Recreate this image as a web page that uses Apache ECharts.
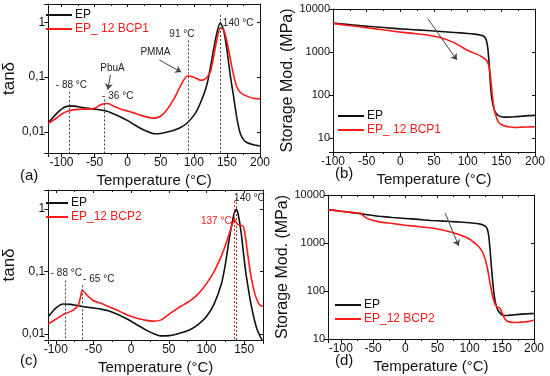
<!DOCTYPE html>
<html><head><meta charset="utf-8">
<script src="https://cdn.jsdelivr.net/npm/echarts@6/dist/echarts.min.js"></script>
<style>html,body{margin:0;padding:0;background:#fff}#c{width:550px;height:376px}</style>
</head><body><div id="c"></div>
<script>
// ---------- DATA ----------
// (a) tan delta, EP vs EP_ 12 BCP1
const tA = [-120,-110,-100,-90,-80,-70,-60,-50,-40,-30,-20,-10,0,10,20,30,40,50,60,70,80,90,100,105,110,115,120,125,130,135,140,145,150,155,160,165,170,175,180,190,200];
const epA = [0.0145,0.02,0.026,0.0295,0.0295,0.028,0.027,0.026,0.025,0.0235,0.021,0.0185,0.016,0.0135,0.0115,0.0101,0.0092,0.0093,0.0099,0.0107,0.012,0.0145,0.02,0.025,0.034,0.048,0.075,0.15,0.33,0.66,1.0,0.72,0.32,0.11,0.045,0.018,0.0095,0.0072,0.0064,0.0058,0.0055];
const bcp1A = [0.0143,0.017,0.021,0.024,0.0255,0.026,0.026,0.027,0.0315,0.033,0.029,0.026,0.024,0.022,0.02,0.0186,0.0178,0.0195,0.026,0.04,0.07,0.105,0.1,0.093,0.088,0.09,0.1,0.125,0.24,0.5,0.8,0.74,0.45,0.22,0.11,0.066,0.053,0.048,0.045,0.041,0.04];
// (b) storage modulus, EP vs EP_ 12 BCP1
const tB = [-100,-80,-60,-40,-20,0,20,40,60,80,100,110,120,123,126,128,130,132,134,136,138,140,143,146,150,155,160,170,180,190,200];
const epB = [4700,4400,4100,3850,3650,3450,3300,3150,3000,2850,2700,2600,2450,2350,2150,1800,1200,500,160,80,55,43,36,33,31,30.5,30.5,31,32,33,33.5];
const bcp1B = [4600,4200,3850,3500,3200,2900,2700,2480,2150,1650,1080,940,790,740,680,630,560,430,260,120,65,42,29,23,20.5,19,18.3,17.5,17.8,18,18.2];
// (c) tan delta, EP vs EP_12 BCP2
const tC = [-110,-100,-90,-80,-75,-70,-67,-65,-62,-58,-50,-40,-30,-20,-10,0,10,20,30,40,50,60,70,80,90,100,110,120,125,130,134,137,140,143,146,149,152,155,158,161,164,167,170,173,175];
const epC = [0.019,0.026,0.0302,0.0298,0.029,0.0283,0.0279,0.0276,0.0272,0.0268,0.026,0.025,0.0235,0.021,0.0185,0.016,0.0135,0.0115,0.0101,0.0093,0.0094,0.0099,0.0107,0.012,0.0145,0.019,0.03,0.065,0.13,0.32,0.6,0.87,1.0,0.72,0.42,0.2,0.1,0.058,0.035,0.023,0.016,0.012,0.0098,0.0083,0.0075];
const bcp2C = [0.0145,0.0172,0.0205,0.023,0.025,0.029,0.04,0.05,0.047,0.041,0.034,0.031,0.0275,0.0245,0.0215,0.0192,0.0175,0.0165,0.016,0.0168,0.0205,0.025,0.0295,0.035,0.045,0.064,0.1,0.18,0.26,0.4,0.56,0.68,0.6,0.55,0.55,0.52,0.34,0.18,0.1,0.064,0.045,0.035,0.03,0.028,0.028];
// (d) storage modulus, EP vs EP_12 BCP2
const tD = [-120,-100,-80,-70,-65,-60,-50,-40,-20,0,20,40,60,80,100,110,115,120,125,128,130,132,134,136,138,140,143,146,148,150,153,156,160,170,180,190,200];
const epD = [5000,4600,4250,4100,4000,3900,3750,3600,3400,3250,3100,2950,2850,2750,2650,2550,2500,2400,2200,1850,1300,650,300,150,85,58,43,36,34,32,31,30.8,31,32,33,33.5,34];
const bcp2D = [4900,4600,4300,4150,3700,3300,2950,2750,2550,2350,2200,2050,1850,1550,1200,950,820,650,420,280,200,140,100,75,60,52,46,45,42,36,29,25,23,22,22.5,23,24.5];
// axis ranges & ticks
const xRangeA = [-120, 200], xRangeB = [-100, 200], xRangeC = [-110, 175], xRangeD = [-120, 200];
const yRangeA = [0.0041, 2.18], yRangeC = [0.008, 2.02], yRangeB = [4.7, 10000], yRangeD = [10, 10000];
const names = {ep: 'EP', b1: 'EP_ 12 BCP1', b2: 'EP_12 BCP2'};

// ---------- CHART ----------
const FONT = '"Liberation Sans", Arial, sans-serif';
const RED = '#ff1a1a', BLK = '#111', GREY = '#444';
const pairs = (t, v) => t.map((x, i) => [x, v[i]]);
const isDecade = v => Math.abs(Math.log10(v) - Math.round(Math.log10(v))) < 1e-6;
const tanFmt = v => {
  if (!isDecade(v)) return '';
  const e = Math.round(Math.log10(v));
  return e >= 0 ? String(Math.pow(10, e)) : '0,' + '0'.repeat(-e - 1) + '1';
};
const modFmt = v => isDecade(v) ? String(Math.round(v)) : '';
const xFmt = v => (Math.abs(v % 50) < 1e-6) ? String(v) : '';

const grids = [
  {left: 39, top: 4, width: 221, height: 149},
  {left: 333, top: 9, width: 202, height: 143},
  {left: 36, top: 190, width: 227, height: 150},
  {left: 328, top: 195, width: 206, height: 144}
];
const xr = [xRangeA, xRangeB, xRangeC, xRangeD];
const yr = [yRangeA, yRangeB, yRangeC, yRangeD];
const yName = ['tanδ', 'Storage Mod. (MPa)', 'tanδ', 'Storage Mod. (MPa)'];
const yFmt = [tanFmt, modFmt, tanFmt, modFmt];

const xAxis = [], yAxis = [];
grids.forEach((g, i) => {
  const common = {type: 'value', gridIndex: i, min: xr[i][0], max: xr[i][1], splitNumber: 6,
    splitLine: {show: false}, axisLine: {show: true, onZero: false, lineStyle: {color: BLK, width: 1}},
    minorTick: {show: true, splitNumber: 2, length: 2, lineStyle: {color: BLK}}};
  xAxis.push(Object.assign({}, common, {position: 'bottom',
    axisTick: {show: true, inside: false, length: 4, lineStyle: {color: BLK}},
    axisLabel: {formatter: xFmt, fontSize: 12, color: BLK, fontFamily: FONT, margin: 4, showMinLabel: true, showMaxLabel: true},
    name: 'Temperature (°C)', nameLocation: 'middle', nameGap: 20,
    nameTextStyle: {fontSize: 15, color: BLK, fontFamily: FONT}}));
  xAxis.push(Object.assign({}, common, {position: 'top',
    axisTick: {show: true, inside: true, length: 3, lineStyle: {color: BLK}},
    axisLabel: {show: false}}));
  const isTan = (i % 2 === 0);
  const yc = {type: 'log', logBase: 10, gridIndex: i, min: yr[i][0], max: yr[i][1],
    splitLine: {show: false}, axisLine: {show: true, onZero: false, lineStyle: {color: BLK, width: 1}}};
  yAxis.push(Object.assign({}, yc, {position: 'left',
    axisTick: {show: true, inside: false, length: 4, lineStyle: {color: BLK}},
    axisLabel: {formatter: yFmt[i], fontSize: isTan ? 12 : 11, color: BLK, fontFamily: FONT, margin: 3},
    name: yName[i], nameLocation: 'middle', nameRotate: 90, nameGap: isTan ? 18 : 36,
    nameTextStyle: {fontSize: isTan ? 17 : 16, color: BLK, fontFamily: FONT}}));
  yAxis.push(Object.assign({}, yc, {position: 'right',
    axisTick: {show: true, inside: true, length: 3, lineStyle: {color: BLK}},
    axisLabel: {show: false}}));
});

const dash = (x, y0, y1) => [{coord: [x, y0]}, {coord: [x, y1]}];
const arrow = (x0, y0, x1, y1) => [{coord: [x0, y0], symbol: 'none'}, {coord: [x1, y1], symbol: 'arrow', symbolSize: 6}];
const txt = (x, y, s) => ({coord: [x, y], value: s, label: {formatter: s}});
const mkLine = (color, type, data) => ({silent: true, symbol: ['none', 'none'], animation: false,
  lineStyle: {color: color, type: type, width: 1}, label: {show: false}, emphasis: {disabled: true}, data: data});
const mkPoint = (color, data) => ({silent: true, symbol: 'rect', symbolSize: 1, animation: false,
  itemStyle: {color: 'rgba(0,0,0,0)'},
  label: {show: true, position: 'inside', color: color, fontSize: 10, fontFamily: FONT}, data: data});

const line = (name, i, t, v, color, extra) => Object.assign({
  type: 'line', name: name, xAxisIndex: 2 * i, yAxisIndex: 2 * i, data: pairs(t, v),
  showSymbol: false, symbol: 'none', smooth: 0.2, animation: false,
  lineStyle: {color: color, width: 1.6}, itemStyle: {color: color}
}, extra || {});

const series = [
  line(names.ep, 0, tA, epA, BLK, {
    markLine: mkLine(GREY, [2, 2], [dash(-88, 0.054, yRangeA[0]), dash(-36, 0.039, yRangeA[0]), dash(91, 0.47, yRangeA[0]), dash(140, 1.38, yRangeA[0])]),
    markPoint: mkPoint('#222', [txt(-85, 0.07, '- 88 °C'), txt(-15, 0.044, '- 36 °C'), txt(-23, 0.147, 'PbuA'), txt(42, 0.28, 'PMMA'), txt(82, 0.62, '91 °C'), txt(167, 0.95, '140 °C')])
  }),
  line(names.b1, 0, tA, bcp1A, RED, {
    markLine: mkLine(GREY, 'solid', [arrow(-26, 0.11, -30, 0.059), arrow(48, 0.206, 81, 0.124)])
  }),
  line(names.ep, 1, tB, epB, BLK, {
    markLine: mkLine(GREY, 'solid', [arrow(41, 5900, 84, 650)])
  }),
  line(names.b1, 1, tB, bcp1B, RED),
  line(names.ep, 2, tC, epC, BLK, {
    markLine: mkLine(GREY, [2, 2], [dash(-88, 0.072, yRangeC[0]), dash(-65, 0.06, yRangeC[0]), dash(140, 1.5, yRangeC[0])]),
    markPoint: mkPoint('#222', [txt(-86, 0.093, '- 88 °C'), txt(-43, 0.075, '- 65 °C'), txt(157, 1.47, '140 °C')])
  }),
  line(names.b2, 2, tC, bcp2C, RED, {
    markLine: mkLine(RED, [2, 2], [dash(137, 1.35, yRangeC[0])]),
    markPoint: mkPoint(RED, [txt(113, 0.63, '137 °C')])
  }),
  line(names.ep, 3, tD, epD, BLK, {
    markLine: mkLine(GREY, 'solid', [arrow(62, 4200, 83, 870)])
  }),
  line(names.b2, 3, tD, bcp2D, RED)
];

const legendPos = [
  {left: 46, top: 9, w: 26, n: names.b1},
  {left: 338, top: 110, w: 26, n: names.b1},
  {left: 46, top: 197, w: 22, n: names.b2},
  {left: 335, top: 299, w: 26, n: names.b2}
];
const legend = legendPos.map(p => ({
  left: p.left, top: p.top, orient: 'vertical', icon: 'rect', itemWidth: p.w, itemHeight: 2, itemGap: 2,
  selectedMode: false, padding: 0,
  textStyle: {fontSize: 12, fontFamily: FONT, padding: [0, 0, 0, -2]},
  data: [{name: names.ep, textStyle: {color: BLK}}, {name: p.n, textStyle: {color: RED}}]
}));

const panelLabels = [['(a)', 20, 168], ['(b)', 335, 166], ['(c)', 20, 353], ['(d)', 335, 353]];
const graphic = panelLabels.map(l => ({type: 'text', left: l[1], top: l[2],
  style: {text: l[0], fontSize: 15, fontFamily: FONT, fill: BLK}}));

const chart = echarts.init(document.getElementById('c'), null, {renderer: 'canvas'});
chart.setOption({
  animation: false, backgroundColor: '#fff',
  grid: grids, xAxis: xAxis, yAxis: yAxis, series: series, legend: legend, graphic: graphic
});
</script></body></html>
